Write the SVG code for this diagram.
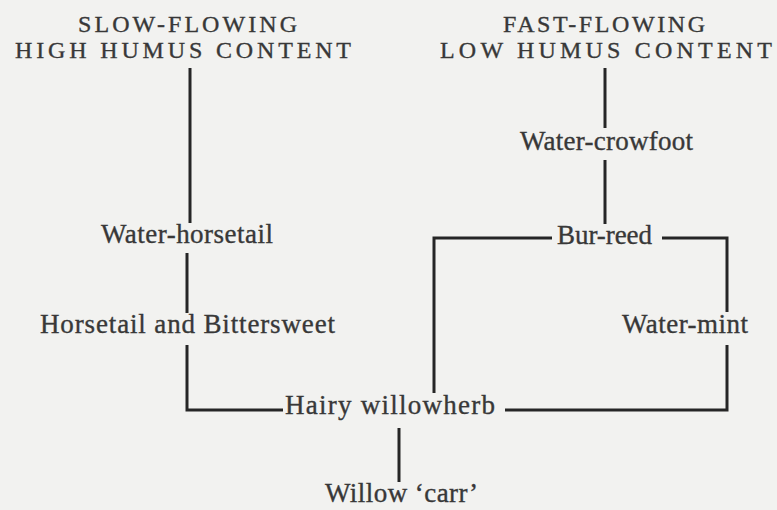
<svg xmlns="http://www.w3.org/2000/svg" width="777" height="510" viewBox="0 0 777 510">
  <style>
    .bg { fill: #f2f2f0; }
    .title { font-family: 'Liberation Serif', 'DejaVu Serif', serif; font-size: 24px; fill: #383838; stroke: #383838; stroke-width: 0.35; }
    .label { font-family: 'Liberation Serif', 'DejaVu Serif', serif; font-size: 27px; fill: #383838; stroke: #383838; stroke-width: 0.35; }
    .conn { fill: none; stroke: #262626; stroke-width: 3; stroke-linecap: butt; stroke-linejoin: miter; }
  </style>
  <rect class="bg" x="0" y="0" width="777" height="510"/>

  <g id="heading-slow">
    <text class="title" x="78" y="32" textLength="219" lengthAdjust="spacing">SLOW-FLOWING</text>
    <text class="title" x="15" y="58" textLength="336" lengthAdjust="spacing">HIGH  HUMUS  CONTENT</text>
  </g>
  <g id="heading-fast">
    <text class="title" x="503" y="32" textLength="202" lengthAdjust="spacing">FAST-FLOWING</text>
    <text class="title" x="440" y="58" textLength="332" lengthAdjust="spacing">LOW  HUMUS  CONTENT</text>
  </g>

  <g id="connectors">
    <line class="conn" x1="190" y1="68" x2="190" y2="223"/>
    <line class="conn" x1="187" y1="253" x2="187" y2="313"/>
    <polyline class="conn" points="187,345 187,410 283,410"/>
    <line class="conn" x1="605" y1="68" x2="605" y2="128"/>
    <line class="conn" x1="605" y1="160" x2="605" y2="224"/>
    <polyline class="conn" points="434,393 434,238 552,238"/>
    <polyline class="conn" points="662,238 727,238 727,312"/>
    <polyline class="conn" points="505,410 727,410 727,345"/>
    <line class="conn" x1="399" y1="428" x2="399" y2="482"/>
  </g>

  <g id="node-water-horsetail">
    <text class="label" x="101" y="243" textLength="172" lengthAdjust="spacing">Water-horsetail</text>
  </g>
  <g id="node-horsetail-bittersweet">
    <text class="label" x="40" y="333" textLength="295" lengthAdjust="spacing">Horsetail  and  Bittersweet</text>
  </g>
  <g id="node-water-crowfoot">
    <text class="label" x="520" y="150" textLength="173" lengthAdjust="spacing">Water-crowfoot</text>
  </g>
  <g id="node-bur-reed">
    <text class="label" x="557" y="244" textLength="95" lengthAdjust="spacing">Bur-reed</text>
  </g>
  <g id="node-water-mint">
    <text class="label" x="622" y="333" textLength="126" lengthAdjust="spacing">Water-mint</text>
  </g>
  <g id="node-hairy-willowherb">
    <text class="label" x="285" y="414" textLength="210" lengthAdjust="spacing">Hairy  willowherb</text>
  </g>
  <g id="node-willow-carr">
    <text class="label" x="325" y="502" textLength="153" lengthAdjust="spacing">Willow ‘carr’</text>
  </g>
</svg>
